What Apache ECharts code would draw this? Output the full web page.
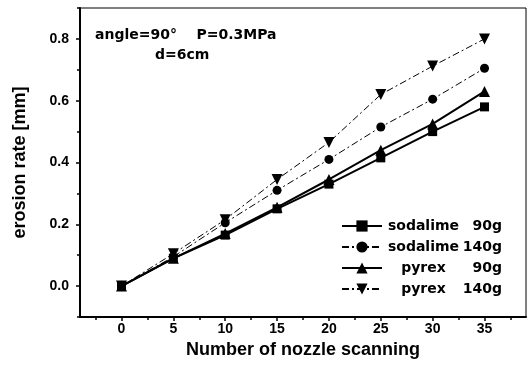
<!DOCTYPE html>
<html>
<head>
<meta charset="utf-8">
<script src="https://cdn.jsdelivr.net/npm/echarts@6/dist/echarts.min.js"></script>
<style>
  html, body { margin: 0; padding: 0; background: #fff; }
  #chart { width: 529px; height: 370px; }
</style>
</head>
<body>
<div id="chart"></div>
<script>
// scan counts
const scans = [0, 5, 10, 15, 20, 25, 30, 35]

// erosion rate [mm] per series
const soda90 = [0, 0.09, 0.165, 0.25, 0.33, 0.415, 0.50, 0.58]
const soda140 = [0, 0.095, 0.205, 0.31, 0.41, 0.515, 0.605, 0.705]
const pyrex90 = [0, 0.09, 0.17, 0.255, 0.345, 0.44, 0.525, 0.63]
const pyrex140 = [0, 0.105, 0.215, 0.345, 0.465, 0.62, 0.712, 0.80]

// tick labels
const xTicks = [0, 5, 10, 15, 20, 25, 30, 35]
const xMinor = [-2.5, 2.5, 7.5, 12.5, 17.5, 22.5, 27.5, 32.5, 37.5]
const yTicks = [0, 0.2, 0.4, 0.6, 0.8]
const yMinor = [-0.1, 0.1, 0.3, 0.5, 0.7, 0.9]

const WIDE = 'DejaVu Sans'
const ARIAL = 'Liberation Sans'
const pair = arr => scans.map((x, i) => [x, arr[i]])
const dashDot = [7, 3, 2, 3]

const makeSeries = (name, data, symbol, size, solid) => ({
  name,
  type: 'line',
  data: pair(data),
  symbol,
  symbolSize: size,
  itemStyle: { color: '#000' },
  lineStyle: { color: '#000', width: solid ? 2 : 1, type: solid ? 'solid' : dashDot },
  animation: false,
})

const tickStyle = { color: '#000', width: 1.5 }
const labelStyle = { fontFamily: ARIAL, fontWeight: 'bold', fontSize: 14, color: '#000' }
const nameStyle = { fontFamily: ARIAL, fontWeight: 'bold', fontSize: 18, color: '#000' }

const option = {
  backgroundColor: '#fff',
  grid: { left: 80, right: 3, top: 8, bottom: 53, show: true, borderColor: '#000', borderWidth: 1 },
  xAxis: [
    {
      type: 'value', min: -4, max: 39, position: 'bottom',
      name: 'Number of nozzle scanning',
      nameLocation: 'middle',
      nameGap: 24,
      nameTextStyle: nameStyle,
      axisLine: { show: true, onZero: false, lineStyle: { color: '#000', width: 2 } },
      axisTick: { show: true, customValues: xTicks, length: 4, lineStyle: tickStyle },
      axisLabel: { ...labelStyle, customValues: xTicks, margin: 5 },
      splitLine: { show: false },
    },
    {
      type: 'value', min: -4, max: 39, position: 'bottom',
      axisLine: { show: false, onZero: false },
      axisTick: { show: true, customValues: xMinor, length: 3, lineStyle: tickStyle },
      axisLabel: { show: false },
      splitLine: { show: false },
    },
  ],
  yAxis: [
    {
      type: 'value', min: -0.1, max: 0.9, position: 'left',
      name: 'erosion rate [mm]',
      nameLocation: 'middle',
      nameGap: 51,
      nameTextStyle: nameStyle,
      axisLine: { show: true, onZero: false, lineStyle: { color: '#000', width: 2 } },
      axisTick: { show: true, customValues: yTicks, length: 4, lineStyle: tickStyle },
      axisLabel: { ...labelStyle, customValues: yTicks, margin: 11, formatter: v => v.toFixed(1) },
      splitLine: { show: false },
    },
    {
      type: 'value', min: -0.1, max: 0.9, position: 'left',
      axisLine: { show: false, onZero: false },
      axisTick: { show: true, customValues: yMinor, length: 3, lineStyle: tickStyle },
      axisLabel: { show: false },
      splitLine: { show: false },
    },
  ],
  legend: {
    orient: 'vertical',
    left: 336,
    top: 214,
    itemWidth: 40,
    itemHeight: 14,
    itemGap: 7,
    textStyle: {
      fontFamily: WIDE, fontWeight: 'bold', fontSize: 14, color: '#000',
      rich: {
        a: { fontFamily: WIDE, fontWeight: 'bold', fontSize: 14, lineHeight: 14, width: 73, align: 'center' },
        b: { fontFamily: WIDE, fontWeight: 'bold', fontSize: 14, lineHeight: 14, width: 42, align: 'right' },
      },
    },
    formatter: n => {
      const [mat, load] = n.split(' ')
      return '{a|' + mat + '}{b|' + load + '}'
    },
  },
  graphic: [
    { type: 'text', left: 95, top: 28, style: { text: 'angle=90°    P=0.3MPa', font: 'bold 14px "DejaVu Sans"', fill: '#000' } },
    { type: 'text', left: 155, top: 48, style: { text: 'd=6cm', font: 'bold 14px "DejaVu Sans"', fill: '#000' } },
  ],
  series: [
    makeSeries('sodalime 90g', soda90, 'rect', 9, true),
    makeSeries('sodalime 140g', soda140, 'circle', 9, false),
    makeSeries('pyrex 90g', pyrex90, 'triangle', 11, true),
    makeSeries('pyrex 140g', pyrex140, 'path://M0,0 L10,0 L5,9 Z', 11, false),
  ],
}

const chart = echarts.init(document.getElementById('chart'))
chart.setOption(option)
</script>
</body>
</html>
